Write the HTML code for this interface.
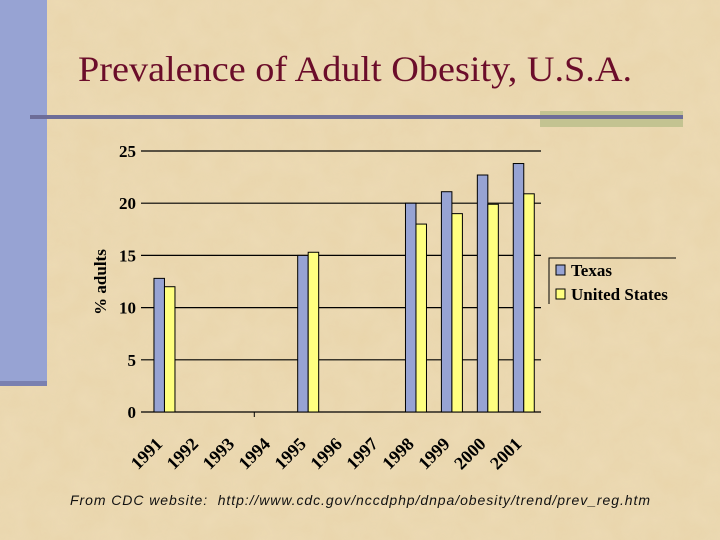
<!DOCTYPE html>
<html><head><meta charset="utf-8"><style>
html,body{margin:0;padding:0;}
body{width:720px;height:540px;overflow:hidden;background:#e9d5ab;position:relative;font-family:"Liberation Serif",serif;}
</style></head><body>
<svg width="720" height="540" style="position:absolute;left:0;top:0">
<defs>
<filter id="tex"><feTurbulence type="fractalNoise" baseFrequency="0.04" numOctaves="3" seed="3"/><feColorMatrix values="0 0 0 0 0.93  0 0 0 0 0.84  0 0 0 0 0.66  0 0 0 0.35 0"/></filter>
</defs>
<rect x="0" y="0" width="720" height="540" fill="#e9d5ab"/>
<rect x="0" y="0" width="720" height="540" filter="url(#tex)" opacity="0.7"/>
<rect x="0" y="0" width="47" height="384" fill="#97a3d3"/>
<rect x="0" y="381" width="47" height="5" fill="#7a80b0"/>
<rect x="540" y="111" width="143" height="16" fill="#c3c391"/>
<rect x="30" y="115" width="653" height="4" fill="#6d6d98"/>
<text x="78" y="81" font-size="36" textLength="554" lengthAdjust="spacingAndGlyphs" fill="#6b0d2a">Prevalence of Adult Obesity, U.S.A.</text>
<g id="chart"></g>
<text x="70" y="505" font-family="Liberation Sans, sans-serif" font-style="italic" font-size="14" textLength="580" lengthAdjust="spacing" fill="#111" xml:space="preserve">From CDC website:  http://www.cdc.gov/nccdphp/dnpa/obesity/trend/prev_reg.htm</text>
</svg>
<script>
const categories=["1991","1992","1993","1994","1995","1996","1997","1998","1999","2000","2001"];
const texas=[12.8,null,null,null,15.0,null,null,20.0,21.1,22.7,23.8];
const unitedStates=[12.0,null,null,null,15.3,null,null,18.0,19.0,19.9,20.9];
const yTicks=[0,5,10,15,20,25];
const NS="http://www.w3.org/2000/svg";
const g=document.getElementById('chart');
const X0=146.5,Y0=412,Y1=151,YMAX=25,GX0=141,GX1=541;
const bw=35.93;
function y(v){return Y0-(v/YMAX)*(Y0-Y1);}
function x(i){return X0+i*bw;}
function mk(t,a){const e=document.createElementNS(NS,t);for(const k in a)e.setAttribute(k,a[k]);g.appendChild(e);return e;}
yTicks.forEach(v=>{
 const l=mk('line',{x1:GX0,x2:GX1,y1:y(v),y2:y(v),stroke:'#000','stroke-width':1.2});
 
 
 const t=mk('text',{x:GX0-5,y:y(v)+6,'text-anchor':'end','font-size':17,'font-weight':'bold'});
 t.textContent=v;
 
 
});
mk('line',{x1:x(3),x2:x(3),y1:Y0,y2:Y0+5,stroke:'#000'});
const bar=10.5;
categories.forEach((c,i)=>{
 const cx=x(i)+bw/2;
 if(texas[i]!=null){
  const r=mk('rect',{x:cx-bar,y:y(texas[i]),width:bar,height:Y0-y(texas[i]),fill:'#97a3d3',stroke:'#000','stroke-width':1});
  
  
 }
 if(unitedStates[i]!=null){
  const r=mk('rect',{x:cx,y:y(unitedStates[i]),width:bar,height:Y0-y(unitedStates[i]),fill:'#ffff80',stroke:'#000','stroke-width':1});
  
  
 }
 const lx=x(i)+bw/2-1, ly=Y0+33;
 const t=mk('text',{x:lx,y:ly,'text-anchor':'end','font-size':18,'font-weight':'bold',transform:`rotate(-45 ${lx} ${ly})`});
 t.textContent=c;
 
 
});
const yt=mk('text',{x:106,y:282,'text-anchor':'middle','font-size':17,'font-weight':'bold',transform:'rotate(-90 106 282)'});
yt.textContent='% adults';


const lg=mk('path',{d:'M549 304 V258 H676',fill:'none',stroke:'#000','stroke-width':1});


[['Texas','#97a3d3',276],['United States','#ffff80',300]].forEach(([n,col,yy])=>{
 const s=mk('rect',{x:556,y:yy-11,width:9,height:10,fill:col,stroke:'#000','stroke-width':1});
 
 
 const t=mk('text',{x:571,y:yy,'font-size':17,'font-weight':'bold'});
 t.textContent=n;
 
 
});
</script>
</body></html>
